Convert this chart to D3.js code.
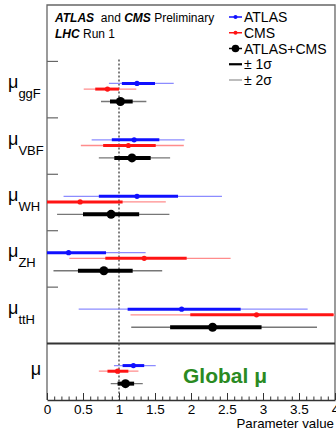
<!DOCTYPE html>
<html>
<head>
<meta charset="utf-8">
<script src="https://cdn.jsdelivr.net/npm/d3@7"></script>
<style>
  html, body { margin: 0; padding: 0; background: #fff; }
  text { font-family: "Liberation Sans", Arial, sans-serif; }
</style>
</head>
<body>
<div id="chart"></div>
<script>
// rows (top band is the legend)
var rows = ["legend", "ggF", "VBF", "WH", "ZH", "ttH", "global"];
var procs = ["ggF", "VBF", "WH", "ZH", "ttH", "global"];
var subLabels = ["ggF", "VBF", "WH", "ZH", "ttH", ""];

// ATLAS
var atlasVal = [1.25, 1.21, 1.25, 0.30, 1.87, 1.20];
var atlasLo1 = [1.04, 0.90, 0.72, -0.15, 1.12, 1.05];
var atlasHi1 = [1.50, 1.56, 1.82, 0.82, 2.69, 1.35];
var atlasLo2 = [0.86, 0.62, 0.23, -0.50, 0.44, 0.93];
var atlasHi2 = [1.76, 1.91, 2.43, 1.37, 3.62, 1.51];

// CMS
var cmsVal = [0.84, 1.13, 0.46, 1.35, 2.91, 0.98];
var cmsLo1 = [0.67, 0.78, -0.08, 0.81, 1.99, 0.84];
var cmsHi1 = [1.00, 1.51, 1.05, 1.94, 3.98, 1.13];
var cmsLo2 = [0.51, 0.47, -0.60, 0.31, 1.16, 0.72];
var cmsHi2 = [1.24, 1.90, 1.65, 2.55, 5.00, 1.27];

// ATLAS+CMS
var combVal = [1.02, 1.18, 0.89, 0.79, 2.30, 1.09];
var combLo1 = [0.875, 0.935, 0.50, 0.43, 1.71, 0.98];
var combHi1 = [1.19, 1.44, 1.28, 1.19, 2.98, 1.21];
var combLo2 = [0.75, 0.72, 0.14, 0.09, 1.17, 0.885];
var combHi2 = [1.38, 1.71, 1.70, 1.60, 3.75, 1.33];

var legendLabels = ["ATLAS", "CMS", "ATLAS+CMS", "\u00b1 1\u03c3", "\u00b1 2\u03c3"];
var xTickVals = [0, 0.5, 1, 1.5, 2, 2.5, 3, 3.5, 4];

var width = 336, height = 431;
var padL = 47, padR = 335, padT = 5, padB = 400;

var svg = d3.select("#chart").append("svg")
  .attr("width", width).attr("height", height);

var x = d3.scaleLinear().domain([0, 4]).range([padL, padR]);
var y = d3.scaleBand().domain(rows).range([padT, padB]);
var bw = y.bandwidth();

svg.append("clipPath").attr("id", "clip")
  .append("rect").attr("x", padL).attr("y", padT)
  .attr("width", padR - padL).attr("height", padB - padT);

// frame
svg.append("path")
  .attr("d", "M" + padL + "," + padB + "V" + padT + "H" + padR + "V" + padB)
  .attr("fill", "none").attr("stroke", "#666").attr("stroke-width", 1.3);

// separator above global mu
svg.append("line")
  .attr("x1", padL).attr("x2", padR)
  .attr("y1", y("global")).attr("y2", y("global"))
  .attr("stroke", "#333").attr("stroke-width", 2);

// row ticks on the left
svg.selectAll(".rowtick").data(["ggF", "VBF", "WH", "ZH", "ttH"]).enter()
  .append("line")
  .attr("x1", padL).attr("x2", padL + 11)
  .attr("y1", function(d) { return y(d); })
  .attr("y2", function(d) { return y(d); })
  .attr("stroke", "#666").attr("stroke-width", 1.2);

// SM line at 1
svg.append("line")
  .attr("x1", x(1)).attr("x2", x(1))
  .attr("y1", y("ggF") - 2).attr("y2", padB)
  .attr("stroke", "#555").attr("stroke-width", 1.5)
  .attr("stroke-dasharray", "2,2");

// x axis: minor ticks, then majors with labels
var minorTicks = d3.range(0, 4.001, 0.1);
svg.append("g").attr("transform", "translate(0," + padB + ")")
  .call(d3.axisBottom(x).tickValues(minorTicks).tickSizeInner(-3.5).tickSizeOuter(0).tickFormat(""))
  .call(function(g) { g.select(".domain").remove(); })
  .selectAll("line").attr("stroke", "#333");

var xAxis = svg.append("g").attr("transform", "translate(0," + padB + ")")
  .call(d3.axisBottom(x).tickValues(xTickVals).tickSizeInner(-7).tickSizeOuter(0)
    .tickPadding(4).tickFormat(d3.format("")));
xAxis.select(".domain").attr("stroke", "#333").attr("stroke-width", 1.3);
xAxis.selectAll("line").attr("stroke", "#333");
xAxis.selectAll("text").attr("font-size", 13.5).attr("fill", "#000")
  .attr("font-family", "'Liberation Sans', Arial, sans-serif");

svg.append("text").attr("x", 334).attr("y", 428)
  .attr("text-anchor", "end").attr("font-size", 13.3)
  .text("Parameter value");

// row labels
procs.forEach(function(p, i) {
  var cy = y(p) + bw / 2;
  if (p === "global") {
    svg.append("text").attr("x", 41).attr("y", cy + 3)
      .attr("text-anchor", "end").attr("font-size", 18).text("\u03bc");
  } else {
    var t = svg.append("text").attr("x", 8).attr("y", cy - 1.5).attr("font-size", 18);
    t.append("tspan").text("\u03bc");
    t.append("tspan").attr("dy", 10).attr("font-size", 13).text(subLabels[i]);
  }
});

// measurements
var series = [
  { name: "ATLAS", val: atlasVal, lo1: atlasLo1, hi1: atlasHi1, lo2: atlasLo2, hi2: atlasHi2,
    c1: "#1010ff", c2: "#8c8cff", w1: 3, w2: 1.3, r: 2.6, off: 0.39 },
  { name: "CMS", val: cmsVal, lo1: cmsLo1, hi1: cmsHi1, lo2: cmsLo2, hi2: cmsHi2,
    c1: "#ff1414", c2: "#ff8c8c", w1: 3, w2: 1.3, r: 2.6, off: 0.49 },
  { name: "ATLAS+CMS", val: combVal, lo1: combLo1, hi1: combHi1, lo2: combLo2, hi2: combHi2,
    c1: "#000", c2: "#777", w1: 4, w2: 1.4, r: 4.5, off: 0.71 }
];

var marks = svg.append("g").attr("clip-path", "url(#clip)");
series.forEach(function(s) {
  var g = marks.append("g");
  var yy = function(d, i) { return y(procs[i]) + bw * s.off; };
  g.selectAll(".s2").data(s.val).enter().append("line")
    .attr("x1", function(d, i) { return x(s.lo2[i]); })
    .attr("x2", function(d, i) { return x(s.hi2[i]); })
    .attr("y1", yy).attr("y2", yy)
    .attr("stroke", s.c2).attr("stroke-width", s.w2);
  g.selectAll(".s1").data(s.val).enter().append("line")
    .attr("x1", function(d, i) { return x(s.lo1[i]); })
    .attr("x2", function(d, i) { return x(s.hi1[i]); })
    .attr("y1", yy).attr("y2", yy)
    .attr("stroke", s.c1).attr("stroke-width", s.w1);
  g.selectAll("circle").data(s.val).enter().append("circle")
    .attr("cx", function(d) { return x(d); })
    .attr("cy", yy).attr("r", s.r).attr("fill", s.c1);
});

// header text
var h1 = svg.append("text").attr("x", 55).attr("y", 22).attr("font-size", 12);
h1.append("tspan").attr("font-weight", "bold").attr("font-style", "italic").text("ATLAS");
h1.append("tspan").text("\u00a0 and ");
h1.append("tspan").attr("font-weight", "bold").attr("font-style", "italic").text("CMS");
h1.append("tspan").text(" Preliminary");
var h2 = svg.append("text").attr("x", 55).attr("y", 38).attr("font-size", 12);
h2.append("tspan").attr("font-weight", "bold").attr("font-style", "italic").text("LHC");
h2.append("tspan").text(" Run 1");

// legend
var legY = d3.scalePoint().domain(legendLabels).range([17, 80]);
var legStyle = [
  { c: "#1010ff", w: 1.5, r: 2 },
  { c: "#ff1414", w: 1.5, r: 2 },
  { c: "#000", w: 1.5, r: 3.8 },
  { c: "#000", w: 2.2, r: 0 },
  { c: "#999", w: 1.3, r: 0 }
];
var leg = svg.append("g");
legendLabels.forEach(function(l, i) {
  var ly = legY(l);
  leg.append("line").attr("x1", 229).attr("x2", 242).attr("y1", ly).attr("y2", ly)
    .attr("stroke", legStyle[i].c).attr("stroke-width", legStyle[i].w);
  if (legStyle[i].r > 0) {
    leg.append("circle").attr("cx", 235.5).attr("cy", ly).attr("r", legStyle[i].r)
      .attr("fill", legStyle[i].c);
  }
  leg.append("text").attr("x", 244).attr("y", ly + 5).attr("font-size", 14).text(l);
});

// global mu label
svg.append("text").attr("x", 183).attr("y", 383)
  .attr("font-size", 21).attr("font-weight", "bold").attr("fill", "#2a8a22")
  .text("Global \u03bc");
</script>
</body>
</html>
